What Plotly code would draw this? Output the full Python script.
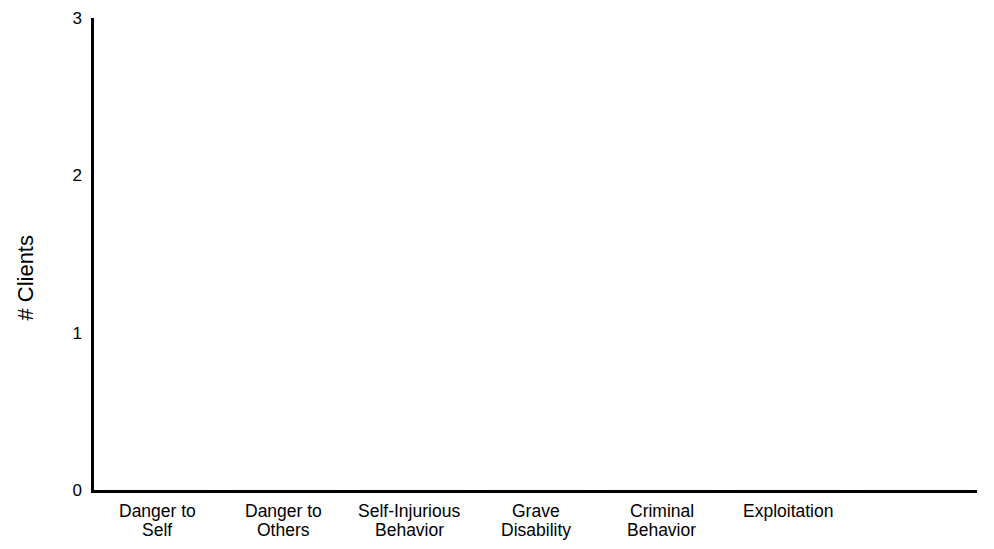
import plotly.graph_objects as go

categories = ["Danger to<br>Self", "Danger to<br>Others", "Self-Injurious<br>Behavior",
              "Grave<br>Disability", "Criminal<br>Behavior", "Exploitation", " "]
clients = [0, 0, 0, 0, 0, 0, 0]
y_ticks = [0, 1, 2, 3]
y_title = "# Clients"

FONT = "Liberation Sans, Arial, sans-serif"
X_FONT = 17.5
LINE_GAP = 19.3

fig = go.Figure(go.Bar(x=categories, y=clients, marker_color="#4472c4"))

annotations = []
for cat in categories:
    for i, line in enumerate(cat.split("<br>")):
        if not line.strip():
            continue
        annotations.append(dict(
            x=cat, xref="x", y=0, yref="paper", yanchor="top", xanchor="center",
            text=line, showarrow=False, font=dict(size=X_FONT, color="black", family=FONT),
            yshift=-(9 + i * LINE_GAP),
        ))
annotations.append(dict(
    x=-0.077, xref="paper", y=0.45, yref="paper", xanchor="center", yanchor="middle",
    text=y_title, textangle=-90, showarrow=False,
    font=dict(size=22, color="black", family=FONT),
))

fig.update_layout(
    width=978, height=533,
    margin=dict(l=86, r=9, t=10, b=51, autoexpand=False),
    paper_bgcolor="white", plot_bgcolor="white",
    showlegend=False,
    font=dict(family=FONT, size=16, color="black"),
    annotations=annotations,
)
fig.update_xaxes(
    type="category", categoryorder="array", categoryarray=categories,
    showline=True, linecolor="black", linewidth=2.5,
    showgrid=False, zeroline=False, ticks="", showticklabels=False,
    automargin=False,
)
fig.update_yaxes(
    range=[0, 3], tickvals=y_ticks, ticktext=[str(v) for v in y_ticks],
    showline=True, linecolor="black", linewidth=2.5,
    showgrid=False, zeroline=False, ticks="",
    tickfont=dict(size=17), ticklabelstandoff=6,
    automargin=False,
)

fig.write_html("out.html")
